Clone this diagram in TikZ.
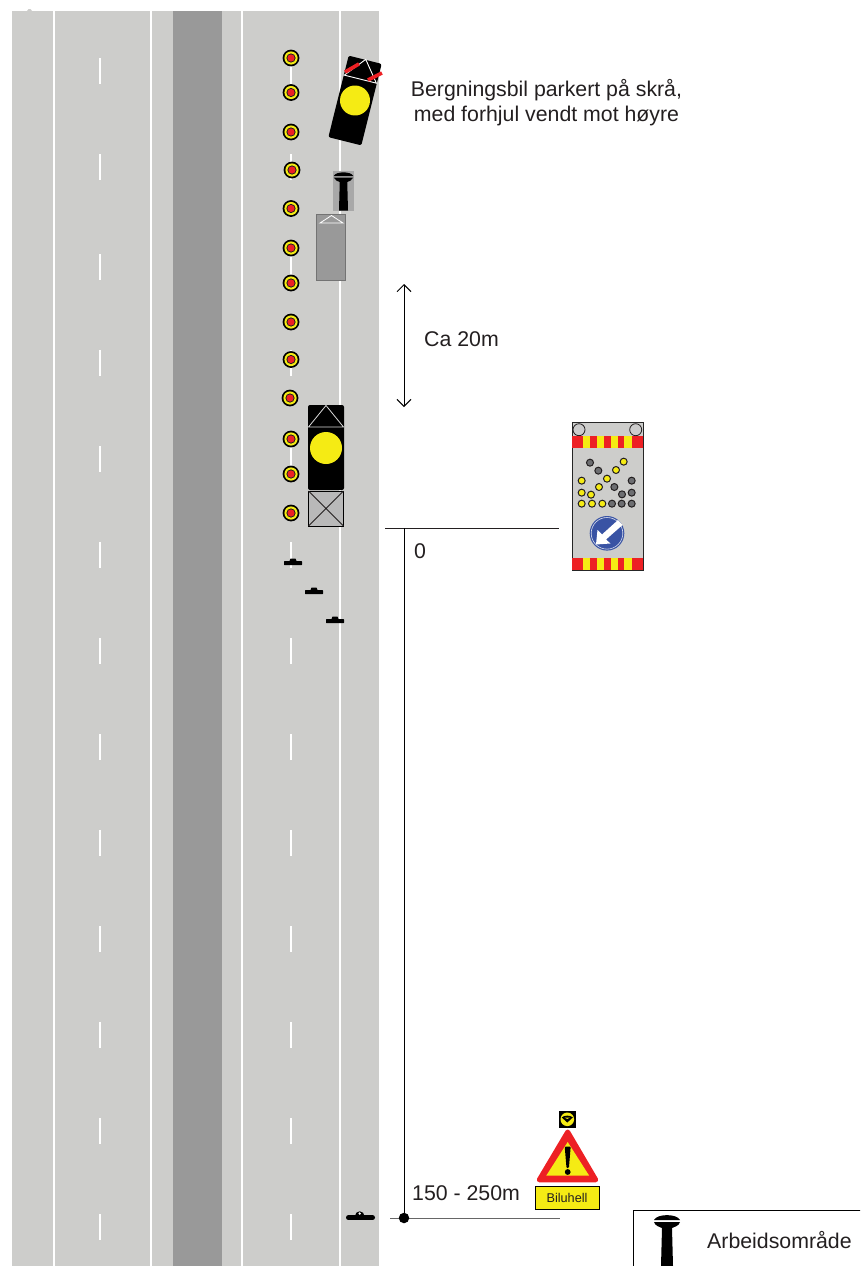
\documentclass[tikz,border=0pt]{standalone}
\usepackage{fontspec}
\setmainfont{Liberation Sans}
\usetikzlibrary{arrows.meta}
\definecolor{road}{HTML}{CDCDCB}
\definecolor{median}{HTML}{999999}
\definecolor{sigyel}{HTML}{F5EB14}
\definecolor{sigred}{HTML}{ED2024}
\definecolor{sigblue}{HTML}{3953A4}
\definecolor{ink}{HTML}{231F20}
\definecolor{lampgrey}{HTML}{6D6E71}
\tikzset{
  x=1pt,y=-1pt,
  lane/.style={draw=white,line width=2pt},
  dashmark/.style={draw=white,line width=2.6pt},
  lbl/.style={inner sep=0pt,font=\fontsize{21.3}{25}\selectfont,text=ink},
  dim/.style={draw=black,line width=1pt},
  lamp off/.style={circle,draw=ink,line width=1pt,fill=lampgrey,minimum size=7pt,inner sep=0pt},
  lamp on/.style={circle,draw=ink,line width=1pt,fill=sigyel,minimum size=7pt,inner sep=0pt},
  cone/.pic={
    \fill[black] (0,0) circle (8.4);
    \fill[sigyel] (0,0) circle (6.6);
    \fill[ink] (0,0) circle (4.6);
    \fill[sigred] (0,0) circle (3.6);
  },
  worker/.pic={
    \fill[black] (-13,6) .. controls (-10,-0.5) and (10,-0.5) .. (13,6) -- cycle;
    \fill[black] (-13,8) -- (13,8) .. controls (12,12) and (7,13) .. (5,14)
      -- (6,52) -- (-6,52) -- (-5,14) .. controls (-7,13) and (-12,12) .. cycle;
  },
  minisign/.pic={
    \fill[black,rounded corners=0.5] (-9,0) rectangle (9,4);
    \fill[black] (-3.5,0) -- (-2.5,-2.5) -- (2.5,-2.5) -- (3.5,0) -- cycle;
  }
}
\begin{document}
\begin{tikzpicture}
\useasboundingbox (0,0) rectangle (860,1266);
\clip (0,0) rectangle (860,1266);
% road
\fill[road] (12,11) rectangle (379,1266);
\fill[road] (27,11) -- (28.5,9) -- (30.5,9) -- (32,11) -- cycle;
\fill[median] (173,11) rectangle (222,1266);
\foreach \x in {53.5,150.5,242,339.5} \draw[lane] (\x,11) -- (\x,1266);
\foreach \y in {58,154,254,350,446,542,638,734,830,926,1022,1118,1214}
  \draw[dashmark] (100,\y) -- (100,\y+26);
\foreach \y in {58,154,254,350,446,542,638,734,830,926,1022,1118,1214}
  \draw[dashmark] (291,\y) -- (291,\y+26);
% cones
\foreach \px/\py in {291/58,291/92.5,291/132,292/170,291/208.5,291/248,291/283,291/322,291/359.5,290/398,291/439,291/474,291/513}
  \pic at (\px,\py) {cone};
% recovery vehicle
\begin{scope}[shift={(355,100.5)},rotate=-14]
  \fill[black,rounded corners=2] (-17,-42) rectangle (17,42);
  \draw[white,line width=0.9pt] (-16.5,-22) -- (0.5,-42.5) -- (16.5,-22) -- cycle;
  \fill[sigyel] (0,0) circle (15);
  \draw[sigred,line width=3.6pt] (-16.6,-25.2) -- (-5,-36.4);
  \draw[sigred,line width=3.6pt] (7.6,-23) -- (19.5,-33.2);
\end{scope}
% worker
\fill[gray!68] (333,171) rectangle (354,211);
\pic[scale=0.75] at (343.5,171.5) {worker};
% grey vehicle
\draw[fill=median,draw=gray!90!black,line width=1pt] (316.5,214) rectangle (345.5,280);
\draw[white,line width=0.8pt] (320,223) -- (331.5,215.5) -- (343,223) -- cycle;
% block vehicle
\fill[black,rounded corners=2] (308,405) rectangle (344,490);
\draw[white!85!black,line width=0.8pt] (308.5,427) -- (326,405.5) -- (343.5,427) -- cycle;
\fill[sigyel] (326,448) circle (16);
\draw[fill=gray!55,draw=black,line width=1pt] (308.5,491) rectangle (343.5,526);
\draw[ink,line width=0.8pt] (308.5,491) -- (343.5,526) (343.5,491) -- (308.5,526);
% small signs
\pic at (293,561) {minisign};
\pic at (314,590) {minisign};
\pic at (335,619) {minisign};
% dimension 20 m
\coordinate (d20a) at (404,284);
\coordinate (d20b) at (404,407);
\draw[dim,{Straight Barb[length=7pt,width=14pt]}-{Straight Barb[length=7pt,width=14pt]}] (d20a) -- (d20b);
\node[lbl,anchor=west] (ca20) at (424,339) {Ca 20m};
% caption
\node[lbl,align=center] (caption) at (546.5,102.5) {Bergningsbil parkert på skrå,\\med forhjul vendt mot høyre};
% zero and base lines
\coordinate (z1) at (385,528);
\coordinate (z2) at (559,528);
\coordinate (v0) at (404,528);
\coordinate (v1) at (404,1218);
\coordinate (b1) at (390,1218);
\coordinate (b2) at (560,1218);
\draw[draw=ink,line width=0.8pt] (z1) -- (z2);
\draw[draw=black,line width=1pt] (v0) -- (v1);
\draw[draw=gray!80!black,line width=1pt] (b1) -- (b2);
\node[circle,fill=black,minimum size=10.5pt,inner sep=0pt] (dot) at (v1) {};
\node[lbl,anchor=west] (zero) at (414,551) {0};
\node[lbl,anchor=west] (dist) at (412,1193) {150 - 250m};
% barrier sign on the road
\fill[black] (355,1216) arc[start angle=180,end angle=360,radius=4.7] -- cycle;
\fill[white] (359.7,1213.5) circle (1.3);
\draw[black,line width=5pt,line cap=round] (348.5,1217.8) -- (372.5,1217.8);
% VMS panel
\draw[fill=road,draw=gray!30!black,line width=1pt] (572,422.5) rectangle (643,570);
\foreach \cx in {579,635.7} \draw[draw=ink,line width=0.8pt,fill=gray!40] (\cx,429.7) circle (6);
\foreach \yy in {436,558}{
  \fill[sigred] (572,\yy) rectangle (643,\yy+12);
  \foreach \a/\b in {583/590,597/604,611/618,624/632}
    \fill[sigyel] (\a,\yy) rectangle (\b,\yy+12);
}
\foreach \zx/\zy in {90/143,115/167,163/216,215/197,186/238,215/233,156/266,185/266,215/266}
  \node[lamp off] at ({560+\zx/3},{415+\zy/3}) {};
\foreach \zx/\zy in {191/140,168/165,141/191,117/216,65/197,65/233,93/239,65/266,96/266,127/266}
  \node[lamp on] at ({560+\zx/3},{415+\zy/3}) {};
\fill[sigblue] (607,533.3) circle (17.3);
\draw[white!80!sigblue,line width=0.6pt] (607,533.3) circle (15.8);
\fill[white] (622.5,525) -- (618,520) -- (602,534.5) -- (597.5,530) -- (596,544.5) -- (610.5,543.5) -- (606,539.5) -- cycle;
% warning sign
\fill[black] (559,1111) rectangle (575.7,1127.7);
\fill[sigyel] (567.3,1119.3) circle (6.8);
\fill[black] (561.8,1117.5) .. controls (564,1115) and (570.6,1115) .. (572.8,1117.5) -- (567.3,1122.5) -- cycle;
\fill[sigyel] (564.5,1117.5) -- (570,1117.5) -- (567.3,1118.9) -- cycle;
\filldraw[fill=sigred,draw=sigred,line width=5pt,line join=round] (567.7,1132) -- (539.3,1179.8) -- (595.7,1179.8) -- cycle;
\fill[sigyel] (567.7,1142) -- (546.2,1175.7) -- (589.2,1175.7) -- cycle;
\fill[black,rounded corners=1] (564.7,1146.5) -- (570.7,1146.5) -- (568.9,1168) -- (566.5,1168) -- cycle;
\fill[black] (567.7,1172) circle (2.9);
\node[draw=black,line width=1pt,fill=sigyel,minimum width=64pt,minimum height=23pt,inner sep=0pt,font=\fontsize{12.7}{14}\selectfont,text=ink] (bil) at (567,1197.6) {Biluhell};
% legend
\coordinate (l1) at (633.5,1267);
\coordinate (l2) at (633.5,1210);
\coordinate (l3) at (861,1210);
\draw[black,line width=1pt] (l1) -- (l2) -- (l3);
\pic at (667,1214) {worker};
\node[lbl,anchor=west] (leg) at (707,1240) {Arbeidsområde};
\end{tikzpicture}
\end{document}
